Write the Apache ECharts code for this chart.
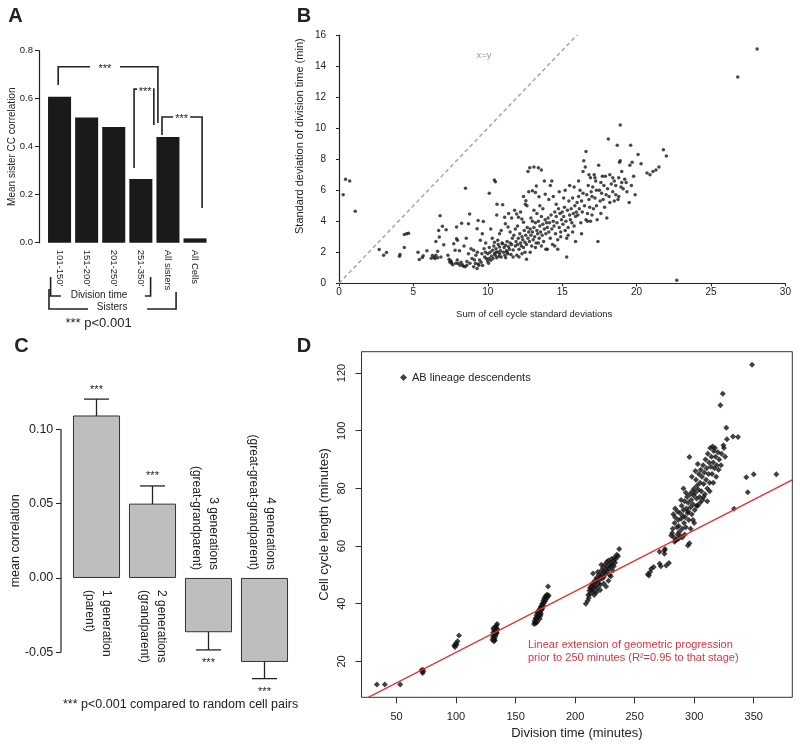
<!DOCTYPE html>
<html><head><meta charset="utf-8">
<script src="https://cdn.jsdelivr.net/npm/echarts@6/dist/echarts.min.js"></script>
<style>html,body{margin:0;padding:0;background:#fff}#c{width:800px;height:748px}</style>
</head><body><div id="c"></div>
<script>
// ---------- Panel A ----------
const aCats = ["101-150'", "151-200'", "201-250'", "251-350'", "All sisters", "All Cells"];
const aVals = [0.608, 0.522, 0.482, 0.265, 0.440, 0.018];
// ---------- Panel B ----------
const bPoints = [
[0.28,5.7],[0.44,6.7],[0.72,6.6],[1.09,4.64],[2.7,2.17],[3.0,1.8],[3.19,1.98],[4.06,1.74],[4.1,1.85],[4.39,2.3],[4.39,3.15],[4.55,3.19],[4.67,3.23],[5.31,2.0],[5.4,1.53],[5.6,1.66],[5.66,1.77],[5.91,2.1],
[6.28,1.79],[6.4,1.68],[6.51,1.81],[6.63,1.64],[6.51,2.7],[6.7,3.4],[6.79,4.36],[6.74,2.98],[6.95,3.68],[7.2,3.45],[7.04,2.49],[6.63,2.06],[6.45,1.6],[6.85,1.7],[6.2,1.62],
[7.32,1.81],[7.44,1.38],[7.55,1.38],[7.57,1.28],[7.71,2.55],[7.9,2.87],[7.96,2.77],[7.8,2.13],[7.9,3.62],[7.5,1.45],[7.65,1.2],[7.85,1.3],[7.4,1.55],[7.95,1.5],
[8.0,1.28],[8.13,1.17],[8.24,3.87],[8.36,1.1],[8.48,1.06],[8.59,1.17],[8.5,6.13],[8.7,3.83],[8.78,4.47],[8.7,1.91],[8.87,2.23],[8.94,1.6],[8.2,1.35],[8.3,1.2],[8.4,2.4],[8.6,1.4],[8.8,1.3],[8.1,2.1],[8.55,2.9],
[9.05,2.13],[9.05,1.06],[9.17,1.28],[9.28,0.96],[9.4,1.17],[9.28,3.51],[9.35,4.04],[9.5,2.77],[9.63,3.19],[9.75,2.23],[9.86,2.6],[9.79,1.7],[9.98,1.43],[9.7,3.98],[9.2,1.8],[9.3,2.0],[9.45,1.5],[9.55,1.35],[9.6,1.9],[9.9,1.6],[9.1,1.5],[9.85,2.0],[9.35,1.25],[9.65,1.15],
[10.09,1.6],[10.2,1.49],[10.1,5.8],[10.44,6.66],[10.51,6.55],[10.67,2.77],[10.79,3.19],[10.9,3.4],[10.32,2.13],[10.44,1.91],[10.55,2.23],[10.67,2.02],[10.79,2.34],[10.9,1.7],[10.62,5.1],[10.0,1.9],[10.15,2.0],[10.25,1.75],[10.35,1.6],[10.4,2.4],[10.5,1.8],[10.6,1.65],[10.7,2.5],[10.8,1.9],[10.85,2.1],[10.95,2.6],[10.3,2.9],[10.2,3.5],[10.05,1.3],[10.45,2.65],[10.75,1.75],[10.1,2.3],[10.6,4.4],[10.55,2.0],
[11.0,5.06],[11.0,2.55],[11.13,4.26],[11.18,3.83],[11.36,3.62],[11.05,2.0],[11.1,2.3],[11.15,1.8],[11.2,2.45],[11.25,2.1],[11.3,2.7],[11.35,1.9],[11.4,2.35],[11.45,2.2],[11.5,2.6],[11.55,1.85],[11.6,2.5],[11.65,2.9],[11.7,2.15],[11.75,3.1],[11.8,4.7],[11.85,2.4],[11.9,2.7],[11.94,4.47],[11.95,1.8],[11.2,1.65],[11.5,3.3],[11.6,4.2],[11.7,1.7],[11.4,4.5],[11.3,2.0],[11.85,3.5],
[12.06,4.26],[12.29,4.15],[12.4,3.94],[12.52,5.1],[12.56,5.32],[12.63,5.0],[12.7,7.2],[12.82,7.45],[12.0,2.5],[12.05,2.9],[12.1,2.2],[12.15,3.2],[12.2,2.6],[12.25,2.4],[12.3,3.0],[12.35,2.8],[12.4,2.3],[12.45,3.4],[12.5,2.65],[12.55,3.1],[12.6,2.5],[12.65,3.6],[12.7,2.9],[12.75,3.3],[12.8,2.7],[12.85,3.5],[12.9,3.1],[12.95,2.4],[12.1,1.7],[12.3,1.9],[12.5,2.0],[12.2,4.6],[12.4,5.6],[12.75,5.9],[12.9,4.2],[12.6,1.55],[12.0,3.7],[12.85,2.0],
[13.1,7.5],[13.4,7.45],[13.6,7.3],[13.0,5.96],[13.2,5.85],[13.26,6.27],[13.44,5.57],[13.8,6.6],[13.86,5.74],[13.0,3.3],[13.05,2.8],[13.1,3.6],[13.15,3.0],[13.2,3.9],[13.25,2.6],[13.3,3.4],[13.35,3.2],[13.4,4.0],[13.45,2.9],[13.5,3.7],[13.55,3.3],[13.6,4.3],[13.65,3.1],[13.7,3.8],[13.75,2.7],[13.8,3.5],[13.85,4.1],[13.9,3.2],[13.95,3.9],[13.1,4.7],[13.3,4.5],[13.5,5.0],[13.7,4.8],[13.2,2.3],[13.6,2.4],[13.9,2.2],[13.4,2.6],[13.0,4.0],
[14.0,3.6],[14.05,4.2],[14.1,3.3],[14.15,3.9],[14.2,2.9],[14.25,4.4],[14.3,3.5],[14.35,2.5],[14.4,4.0],[14.45,3.7],[14.5,4.6],[14.55,3.2],[14.6,4.3],[14.65,3.9],[14.7,2.8],[14.75,4.8],[14.8,3.6],[14.85,4.5],[14.9,3.0],[14.95,4.1],[14.3,6.6],[14.1,5.4],[14.2,6.3],[14.4,5.6],[14.6,5.1],[14.8,5.9],[14.0,2.2],[14.5,2.4],[14.7,2.2],[14.9,3.3],
[15.0,4.6],[15.05,3.8],[15.1,4.3],[15.15,4.9],[15.2,3.4],[15.25,4.0],[15.3,1.7],[15.35,4.7],[15.4,3.6],[15.45,5.3],[15.5,4.4],[15.55,4.1],[15.6,4.8],[15.65,3.9],[15.7,5.5],[15.75,4.5],[15.8,3.7],[15.85,5.0],[15.9,4.3],[15.95,4.6],[15.5,6.3],[15.2,6.0],[15.8,6.2],[15.1,5.5],[15.4,3.1],[15.7,3.3],[15.3,2.9],[15.9,2.7],
[16.0,5.2],[16.05,4.4],[16.1,5.6],[16.15,4.8],[16.2,6.0],[16.25,3.9],[16.3,5.3],[16.35,4.6],[16.4,5.8],[16.45,7.9],[16.5,5.0],[16.55,7.5],[16.6,8.5],[16.65,5.7],[16.7,4.5],[16.75,6.3],[16.8,5.4],[16.85,4.9],[16.9,6.8],[16.95,5.9],[16.3,3.2],[16.6,4.1],[16.9,4.0],[16.1,6.6],[16.4,7.2],[16.8,7.0],[16.7,4.0],
[17.0,5.6],[17.05,6.2],[17.1,4.8],[17.15,7.0],[17.2,5.5],[17.25,6.6],[17.3,5.0],[17.35,4.1],[17.4,2.7],[17.45,7.6],[17.5,6.0],[17.55,5.3],[17.6,6.5],[17.65,5.8],[17.7,6.9],[17.75,5.4],[17.8,6.3],[17.85,4.9],[17.9,6.9],[17.95,5.7],[17.3,6.0],[17.6,4.5],[17.0,4.4],[17.2,6.8],
[18.0,4.2],[18.05,6.1],[18.1,9.3],[18.15,5.6],[18.2,5.2],[18.3,6.4],[18.4,5.9],[18.5,6.6],[18.6,5.7],[18.7,8.9],[18.75,5.4],[18.8,6.8],[18.85,7.8],[18.9,10.2],[18.95,6.2],[18.4,6.8],[18.6,6.3],[18.8,5.6],[18.2,7.0],[18.5,5.3],[18.9,7.9],
[19.0,6.5],[19.1,6.1],[19.2,6.7],[19.35,5.9],[19.5,5.2],[19.55,7.6],[19.6,8.9],[19.65,6.3],[19.7,7.8],[19.8,6.9],[19.9,5.7],[20.1,8.3],[20.3,7.7],[20.7,7.1],[20.9,7.0],[21.1,7.2],[21.3,7.3],[21.5,7.5],[21.8,8.6],[22.0,8.2],[19.3,6.5],[19.0,7.2],
[22.7,0.2],[26.8,13.3],[28.1,15.1]
];
const bDiag = [[0, 0], [16, 16]];
// ---------- Panel C ----------
const cCats = ['1 generation\n(parent)', '2 generations\n(grandparent)', '3 generations\n(great-grandparent)', '4 generations\n(great-great-grandparent)'];
const cVals = [0.1093, 0.0500, -0.0365, -0.0565];
const cLo = [0.0982, 0.0380, -0.0484, -0.0677];
const cHi = [0.1203, 0.0619, -0.0246, -0.0448];
const cTicks = [-0.05, 0, 0.05, 0.10];
// ---------- Panel D ----------
const dPoints = [
[33.5,12],[40.2,12],[53.1,12],[71.0,16.9],[71.9,16.0],[72.1,17.1],[72.5,16.5],
[98.5,25.5],[99.1,25.0],[99.9,26.3],[100.5,25.8],[101.3,27.0],[102.5,29.0],
[130.5,27.5],[131.0,28.5],[131.2,30.0],[131.5,29.2],[131.8,27.0],[132.0,31.0],[132.3,28.0],[132.5,30.5],[132.8,29.5],[133.0,32.0],[133.2,28.8],[133.5,31.5],[133.8,30.2],[134.0,32.5],[134.2,29.8],[134.5,33.0],[134.8,31.2],[131.3,31.5],[132.6,27.3],[133.6,30.0],
[165.5,33.0],[166.0,34.0],[166.3,33.5],[166.8,35.0],[167.0,33.2],[167.3,34.5],[167.6,36.0],[168.0,35.2],[168.3,33.8],[168.6,36.8],[169.0,35.5],[169.3,37.5],[169.6,36.2],[170.0,38.0],[170.3,34.8],[170.6,37.0],[171.0,38.8],[171.3,36.5],[171.6,39.2],[172.0,37.8],[172.3,40.0],[172.6,38.5],[173.0,39.5],[173.3,41.0],[173.6,40.2],[174.0,41.8],[174.5,40.8],[175.0,42.5],[175.5,41.5],[176.0,43.0],[176.5,42.2],[177.0,43.0],[177.3,46.0],[177.8,42.8],[168.2,37.0],[170.8,35.8],
[209.0,40.0],[210.5,41.0],[211.0,43.0],[211.5,42.0],[212.0,44.5],[212.5,45.5],[213.0,43.5],[213.5,46.0],[214.0,44.8],[214.5,47.0],[215.0,45.2],[215.5,46.5],[216.0,44.2],[216.5,48.0],[217.0,46.0],[217.5,47.5],[218.0,49.0],[218.5,45.5],[219.0,48.5],[219.5,47.0],[220.0,50.0],[220.5,48.2],[221.0,46.5],[221.5,49.5],[222.0,51.5],[222.5,48.8],[223.0,50.5],[223.5,52.5],[224.0,49.2],[224.5,51.0],[225.0,53.5],[225.5,50.2],[226.0,52.0],[226.5,54.5],[227.0,51.2],[227.5,53.0],[228.0,55.0],[228.5,52.2],[229.0,50.0],[229.5,54.0],[230.0,52.8],[230.5,55.5],[231.0,53.5],[231.5,51.5],[232.0,54.8],[232.5,53.0],[233.0,56.0],[233.5,54.2],[234.0,55.5],[235.0,57.0],[236.0,56.5],[237.0,59.0],[218.0,44.0],[221.0,44.8],[224.0,47.0],[226.0,46.0],[228.0,48.0],[230.0,49.5],[215.0,50.5],[219.0,51.0],[222.0,53.5],[216.0,43.0],
[261.0,50.2],[262.0,49.8],[263.0,51.0],[264.0,52.1],[266.0,52.7],[271.0,58.0],[271.0,53.9],[272.0,53.0],[275.0,58.5],[275.0,57.3],[276.5,53.3],[278.8,54.1],[275.5,59.0],
[280.7,63.7],[282.0,66.0],[282.5,71.0],[283.0,63.0],[283.5,68.0],[284.0,73.0],[284.5,62.0],[285.0,62.2],[285.5,66.5],[286.0,64.0],[286.5,69.0],[287.0,67.0],[287.5,65.0],[288.0,71.5],[288.5,63.5],[289.0,69.5],[289.5,74.0],[290.0,66.0],[290.5,70.5],[291.0,72.5],[291.5,68.0],[292.0,75.5],[292.5,70.0],[293.0,66.5],[293.5,73.0],[294.0,77.0],[294.5,71.5],[294.7,60.2],[295.0,75.0],[295.5,69.0],[296.0,61.0],[296.0,90.9],[296.5,78.0],[297.0,73.5],[297.5,76.0],[298.0,71.0],[298.5,79.0],[299.0,74.5],[299.5,77.5],[300.0,80.0],[300.5,72.5],[301.0,78.5],[301.5,83.0],[302.0,76.5],[302.5,81.0],[303.0,74.0],[303.5,79.5],[304.0,85.0],[304.5,77.0],[305.0,82.0],[305.5,86.5],[306.0,79.0],[306.5,84.0],[307.0,76.0],[307.5,88.0],[308.0,81.5],[308.5,85.5],[309.0,78.0],[309.5,90.0],[310.0,83.0],[310.5,87.0],[311.0,80.0],[311.5,92.0],[312.0,85.0],[312.5,89.0],[313.0,82.0],[313.5,94.0],[314.0,87.5],[314.5,91.0],[315.0,85.0],[315.5,94.5],[316.0,89.0],[316.5,93.0],[317.0,87.0],[317.5,94.0],[318.0,91.0],[319.0,88.0],[320.0,92.5],[321.0,90.0],[322.0,108.8],[322.5,88.0],[323.0,92.0],[324.0,112.8],[324.5,95.0],[325.0,94.0],[326.0,91.0],[327.0,101.0],[327.5,97.0],[332.6,98.0],[336.8,97.8],[333.5,72.9],[343.8,83.9],[345.0,78.7],[350.0,84.9],[369.0,84.9],[348.6,122.9],
[281.5,64.5],[283.5,61.5],[287.0,62.5],[290.0,63.0],[292.0,64.0],[284.0,70.0],[286.0,72.0],[289.0,76.0],[291.0,80.0],[293.0,78.5],[298.0,84.0],[301.0,86.0],[303.0,88.5],[295.0,72.0],[299.0,69.0],[302.0,74.0],[305.0,75.0],[308.0,77.0],[311.0,75.5],[313.0,79.0],[316.0,82.0],[318.5,84.0],[320.5,86.5],[297.0,66.0],[300.0,68.0]
];
const dFit = [[20.6, 6.33], [382.4, 82.96]];
const dXTicks = [50, 100, 150, 200, 250, 300, 350];
const dYTicks = [20, 40, 60, 80, 100, 120];

const FF = '"Liberation Sans", Arial, Helvetica, sans-serif';
const INK = '#222';
const chart = echarts.init(document.getElementById('c'), null, {renderer: 'canvas'});

const gA = {left: 46, top: 50.7, width: 162.6, height: 192};
const gC = {left: 68.5, top: 384.7, width: 224, height: 312.2};
const cOffset = 7.5;

function baseAxisCommon() {
  return {splitLine: {show: false}, nameMoveOverlap: false};
}

const option = {
  animation: false,
  backgroundColor: '#fff',
  textStyle: {fontFamily: FF, color: INK},
  grid: [
    Object.assign({outerBoundsMode: 'none'}, gA),
    {left: 339, top: 35, width: 446.4, height: 248.3, outerBoundsMode: 'none'},
    Object.assign({outerBoundsMode: 'none'}, gC),
    {left: 361.5, top: 351.7, width: 430.8, height: 345.6, show: true, borderColor: '#333', borderWidth: 1, backgroundColor: 'transparent', outerBoundsMode: 'none'}
  ],
  legend: {
    data: ['AB lineage descendents'], left: 400, top: 372, padding: 0, icon: 'diamond',
    itemWidth: 7, itemHeight: 7, selectedMode: false,
    textStyle: {fontSize: 11, color: INK, fontFamily: FF}
  },
  xAxis: [
    Object.assign(baseAxisCommon(), {gridIndex: 0, type: 'category', data: aCats,
      axisLine: {show: false}, axisTick: {show: false},
      axisLabel: {rotate: -90, margin: 7, fontSize: 9.5, color: INK, interval: 0, fontFamily: FF}}),
    Object.assign(baseAxisCommon(), {gridIndex: 1, type: 'value', min: 0, max: 30, interval: 5,
      axisLine: {show: true, lineStyle: {color: INK, width: 1.2}},
      axisTick: {show: true, length: 3, lineStyle: {color: INK}},
      axisLabel: {margin: 4, fontSize: 10, color: INK, fontFamily: FF},
      name: 'Sum of cell cycle standard deviations', nameLocation: 'middle', nameGap: 26,
      nameTextStyle: {fontSize: 9.5, color: INK, fontFamily: FF, padding: [0, 56, 0, 0]}}),
    Object.assign(baseAxisCommon(), {gridIndex: 2, type: 'category', data: cCats,
      axisLine: {show: false}, axisTick: {show: false}, axisLabel: {show: false}}),
    Object.assign(baseAxisCommon(), {gridIndex: 3, type: 'value', min: 20.6, max: 382.4,
      axisLine: {show: false},
      axisTick: {show: true, length: 6, customValues: dXTicks, lineStyle: {color: '#333'}},
      axisLabel: {customValues: dXTicks, margin: 14, fontSize: 11, color: INK, fontFamily: FF},
      name: 'Division time (minutes)', nameLocation: 'middle', nameGap: 30,
      nameTextStyle: {fontSize: 13, color: INK, fontFamily: FF}})
  ],
  yAxis: [
    Object.assign(baseAxisCommon(), {gridIndex: 0, type: 'value', min: 0, max: 0.8, interval: 0.2, offset: 7,
      axisLine: {show: true, lineStyle: {color: INK, width: 1.2}},
      axisTick: {show: true, length: 4, lineStyle: {color: INK}},
      axisLabel: {margin: 6, fontSize: 9.5, color: INK, fontFamily: FF, formatter: v => v.toFixed(1)},
      name: 'Mean sister CC correlation', nameLocation: 'middle', nameGap: 22,
      nameTextStyle: {fontSize: 10, color: INK, fontFamily: FF}}),
    Object.assign(baseAxisCommon(), {gridIndex: 1, type: 'value', min: 0, max: 16, interval: 2,
      axisLine: {show: true, lineStyle: {color: INK, width: 1.2}},
      axisTick: {show: true, length: 3, lineStyle: {color: INK}},
      axisLabel: {margin: 13, fontSize: 10, color: INK, fontFamily: FF},
      name: 'Standard deviation of division time (min)', nameLocation: 'middle', nameGap: 34,
      nameTextStyle: {fontSize: 11, color: INK, fontFamily: FF, padding: [0, 0, 0, 46]}}),
    Object.assign(baseAxisCommon(), {gridIndex: 2, type: 'value', min: -0.08, max: 0.13, offset: cOffset,
      axisLine: {show: false},
      axisTick: {show: true, length: 5, customValues: cTicks, lineStyle: {color: INK}},
      axisLabel: {customValues: cTicks, margin: 7.7, fontSize: 12.5, color: INK, fontFamily: FF, formatter: v => v.toFixed(2)},
      name: 'mean correlation', nameLocation: 'middle', nameGap: 39,
      nameTextStyle: {fontSize: 12.5, color: INK, fontFamily: FF}}),
    Object.assign(baseAxisCommon(), {gridIndex: 3, type: 'value', min: 7.56, max: 127.4,
      axisLine: {show: false},
      axisTick: {show: true, length: 6, customValues: dYTicks, lineStyle: {color: '#333'}},
      axisLabel: {customValues: dYTicks, rotate: 90, margin: 14, fontSize: 11, color: INK, fontFamily: FF},
      name: 'Cell cycle length (minutes)', nameLocation: 'middle', nameGap: 31,
      nameTextStyle: {fontSize: 13, color: INK, fontFamily: FF}})
  ],
  series: [
    {type: 'bar', name: 'A', xAxisIndex: 0, yAxisIndex: 0, data: aVals, barCategoryGap: '15%',
      itemStyle: {color: '#1a1a1a'}, silent: true},
    {type: 'scatter', name: 'B', xAxisIndex: 1, yAxisIndex: 1, data: bPoints, symbol: 'circle', symbolSize: 3.5,
      itemStyle: {color: '#1a1a1a', borderWidth: 0}, silent: true},
    {type: 'line', name: 'x=y', xAxisIndex: 1, yAxisIndex: 1, data: bDiag, symbol: 'none',
      lineStyle: {color: '#aaaaaa', width: 1.6, type: [4, 3]}, silent: true},
    {type: 'bar', name: 'C', xAxisIndex: 2, yAxisIndex: 2, data: cVals, barCategoryGap: '16%',
      itemStyle: {color: '#bebebe', borderColor: '#333', borderWidth: 1}, silent: true},
    {type: 'custom', name: 'Cerr', xAxisIndex: 2, yAxisIndex: 2, silent: true,
      data: cLo.map((lo, i) => [i, lo, cHi[i], cVals[i]]),
      renderItem: function (params, api) {
        const i = api.value(0), lo = api.value(1), hi = api.value(2), v = api.value(3);
        const pLo = api.coord([i, lo]), pHi = api.coord([i, hi]);
        const cw = 12.5;
        const st = {stroke: INK, lineWidth: 1.3};
        const starY = v >= 0 ? pHi[1] - 9.5 : pLo[1] + 13;
        return {type: 'group', children: [
          {type: 'line', shape: {x1: pLo[0], y1: pLo[1], x2: pHi[0], y2: pHi[1]}, style: st},
          {type: 'line', shape: {x1: pLo[0] - cw, y1: pLo[1], x2: pLo[0] + cw, y2: pLo[1]}, style: st},
          {type: 'line', shape: {x1: pHi[0] - cw, y1: pHi[1], x2: pHi[0] + cw, y2: pHi[1]}, style: st},
          {type: 'text', x: pLo[0], y: starY, style: {text: '***', fill: INK, fontSize: 11, fontFamily: FF, align: 'center', verticalAlign: 'middle'}}
        ]};
      }},
    {type: 'scatter', name: 'AB lineage descendents', xAxisIndex: 3, yAxisIndex: 3, data: dPoints,
      symbol: 'diamond', symbolSize: 6, itemStyle: {color: '#111', borderWidth: 0}, silent: true},
    {type: 'line', name: 'fit', xAxisIndex: 3, yAxisIndex: 3, data: dFit, symbol: 'none',
      lineStyle: {color: '#ee2a2a', width: 1.3}, silent: true}
  ]
};
chart.setOption(option);

// ---------- annotations ----------
const g = [];
function addText(x, y, text, style, rotation) {
  const st = Object.assign({text: text, fill: INK, fontFamily: FF, fontSize: 10, align: 'center', verticalAlign: 'middle'}, style || {});
  st.textAlign = st.align; st.textVerticalAlign = st.verticalAlign;
  g.push({type: 'text', x: x, y: y, rotation: rotation || 0, silent: true, style: st});
}
function addLine(points, w, color) {
  g.push({type: 'polyline', silent: true, shape: {points: points}, style: {stroke: color || INK, lineWidth: w || 1.5, fill: null}});
}
// panel letters
addText(15.5, 16, 'A', {fontSize: 20, fontWeight: 'bold'});
addText(304, 16, 'B', {fontSize: 20, fontWeight: 'bold'});
addText(21.5, 346, 'C', {fontSize: 20, fontWeight: 'bold'});
addText(304, 346, 'D', {fontSize: 20, fontWeight: 'bold'});

// Panel A significance brackets (positions in category units / data values)
const a0 = chart.convertToPixel({xAxisIndex: 0, yAxisIndex: 0}, [0, 0]);
const a1 = chart.convertToPixel({xAxisIndex: 0, yAxisIndex: 0}, [1, 0]);
const pitchA = a1[0] - a0[0];
const ax = f => a0[0] + f * pitchA;
const ay = v => chart.convertToPixel({xAxisIndex: 0, yAxisIndex: 0}, [0, v])[1];
const aSig = [
  {from: -0.05, fromV: 0.657, to: 3.63, toV: 0.499, level: 0.733, gap: [1.12, 2.23], star: 1.675},
  {from: 2.75, fromV: 0.311, to: 3.48, toV: 0.49, level: 0.64, gap: [2.86, 3.45], star: 3.155},
  {from: 3.78, fromV: 0.449, to: 5.26, toV: 0.145, level: 0.524, gap: [4.19, 4.82], star: 4.505}
];
aSig.forEach(s => {
  addLine([[ax(s.from), ay(s.fromV)], [ax(s.from), ay(s.level)], [ax(s.gap[0]), ay(s.level)]], 1.6);
  addLine([[ax(s.gap[1]), ay(s.level)], [ax(s.to), ay(s.level)], [ax(s.to), ay(s.toV)]], 1.6);
  addText(ax(s.star), ay(s.level) + 2.5, '***', {fontSize: 11});
});
// bottom grouping brackets
const y0 = ay(0);
addLine([[ax(-0.33), y0 + 34.3], [ax(-0.33), y0 + 53.3], [ax(0.05), y0 + 53.3]], 1.6);
addLine([[ax(3.15), y0 + 53.3], [ax(3.36), y0 + 53.3], [ax(3.36), y0 + 34.3]], 1.6);
addText(ax(1.456), y0 + 52.5, 'Division time', {fontSize: 10});
addLine([[ax(-0.39), y0 + 46.3], [ax(-0.39), y0 + 66.3], [ax(1.05), y0 + 66.3]], 1.6);
addLine([[ax(3.23), y0 + 66.3], [ax(4.30), y0 + 66.3], [ax(4.30), y0 + 49.3]], 1.6);
addText(ax(1.94), y0 + 64.5, 'Sisters', {fontSize: 10});
addText(ax(1.44), y0 + 80.5, '*** p<0.001', {fontSize: 13});

// Panel B label
const pXY = chart.convertToPixel({xAxisIndex: 1, yAxisIndex: 1}, [9.75, 14.7]);
addText(pXY[0], pXY[1], 'x=y', {fontSize: 9.5, fill: '#999'});

// Panel C axis line and category labels
const cAxisX = gC.left - cOffset;
const cy = v => chart.convertToPixel({xAxisIndex: 2, yAxisIndex: 2}, [0, v])[1];
addLine([[cAxisX, cy(-0.05)], [cAxisX, cy(0.10)]], 1.2);
const cShift = [1.5, 0.5, -3.5, -2.5];
cCats.forEach((lab, i) => {
  const p = chart.convertToPixel({xAxisIndex: 2, yAxisIndex: 2}, [i, 0]);
  if (cVals[i] >= 0) addText(p[0] + cShift[i], p[1] + 12, lab, {fontSize: 12, align: 'left', lineHeight: 17}, -Math.PI / 2);
  else addText(p[0] + cShift[i], p[1] - 8, lab, {fontSize: 12, align: 'right', lineHeight: 17}, -Math.PI / 2);
});
addText(63, 705, '*** p<0.001 compared to random cell pairs', {fontSize: 12.5, align: 'left'});

// Panel D annotation
addText(528, 651.5, 'Linear extension of geometric progression\nprior to 250 minutes (R\u00b2=0.95 to that stage)',
  {fontSize: 11, align: 'left', lineHeight: 13.5, fill: '#e8303a'});

chart.setOption({graphic: {elements: g}});
</script></body></html>
